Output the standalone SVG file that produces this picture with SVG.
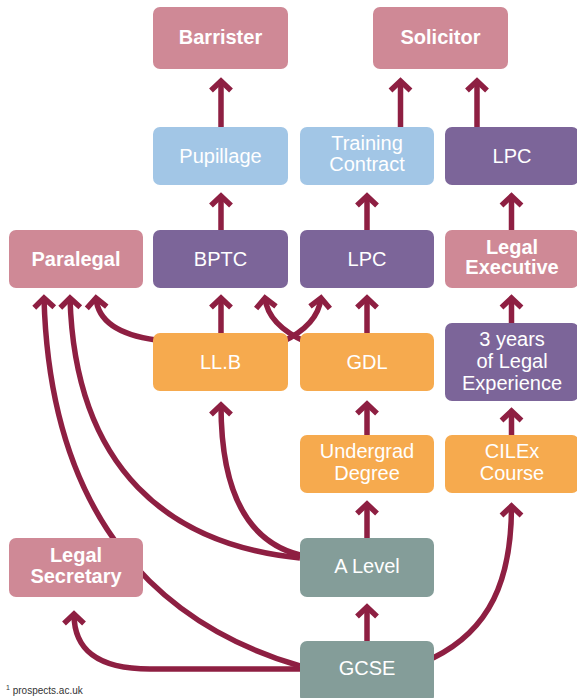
<svg xmlns="http://www.w3.org/2000/svg" width="577" height="698" viewBox="0 0 577 698">
<style>
.pink{fill:#CF8996}.blue{fill:#A2C6E6}.purple{fill:#7C6599}.orange{fill:#F6AA4E}.teal{fill:#849D99}
text{font-family:"Liberation Sans",Arial,sans-serif;font-size:20px;fill:#fff;text-anchor:middle}
.b{font-weight:bold}
.c{fill:none;stroke:#8E1F42;stroke-width:5.5;marker-end:url(#ah)}
.note{font-size:10px;fill:#333;text-anchor:start}
</style>
<defs>
<marker id="ah" markerUnits="userSpaceOnUse" orient="auto" viewBox="-16 -14 24 28" markerWidth="24" markerHeight="28" refX="0" refY="0">
<path d="M-9.5,-10 L0,0 L-9.5,10" fill="none" stroke="#8E1F42" stroke-width="5.5"/>
</marker>
</defs>
<g id="connectors">
<path class="c" d="M221 127 V81"/>
<path class="c" d="M400.5 127 V81"/>
<path class="c" d="M477 127 V81"/>
<path class="c" d="M221 230 V196"/>
<path class="c" d="M367 230 V196"/>
<path class="c" d="M511.5 230 V196"/>
<path class="c" d="M221 333 V298"/>
<path class="c" d="M367 333 V298"/>
<path class="c" d="M511.5 323 V298"/>
<path class="c" d="M306 342 Q268 325 265 298"/>
<path class="c" d="M282 342 Q318 325 321 298"/>
<path class="c" d="M156 340 C120 335 98 322 96 298"/>
<path class="c" d="M300 666 C160 625 50 520 44 298"/>
<path class="c" d="M300 558 C170 545 75 470 70 298"/>
<path class="c" d="M300 555 C240 540 221 480 221 405"/>
<path class="c" d="M367 435 V404"/>
<path class="c" d="M511.5 435 V411"/>
<path class="c" d="M367 538 V504"/>
<path class="c" d="M433 658 C490 630 511.5 580 511.5 506"/>
<path class="c" d="M367 641 V607"/>
<path class="c" d="M300 669 L150 669 C95 669 74 648 74 614"/>
</g>
<g id="barrister"><rect class="pink" x="153" y="7" width="135" height="62" rx="7"/><text class="b" x="220.5" y="44">Barrister</text></g>
<g id="solicitor"><rect class="pink" x="373" y="7" width="135" height="62" rx="7"/><text class="b" x="440.5" y="44">Solicitor</text></g>
<g id="pupillage"><rect class="blue" x="153" y="127" width="135" height="58" rx="7"/><text x="220.5" y="163">Pupillage</text></g>
<g id="training"><rect class="blue" x="300" y="127" width="134" height="58" rx="7"/><text x="367" y="150">Training</text><text x="367" y="171">Contract</text></g>
<g id="lpc-top"><rect class="purple" x="445" y="127" width="134" height="58" rx="7"/><text x="512" y="163">LPC</text></g>
<g id="paralegal"><rect class="pink" x="9" y="230" width="134" height="58" rx="7"/><text class="b" x="76" y="266">Paralegal</text></g>
<g id="bptc"><rect class="purple" x="153" y="230" width="135" height="58" rx="7"/><text x="220.5" y="266">BPTC</text></g>
<g id="lpc-mid"><rect class="purple" x="300" y="230" width="134" height="58" rx="7"/><text x="367" y="266">LPC</text></g>
<g id="legal-exec"><rect class="pink" x="445" y="230" width="134" height="58" rx="7"/><text class="b" x="512" y="254">Legal</text><text class="b" x="512" y="274">Executive</text></g>
<g id="llb"><rect class="orange" x="153" y="333" width="135" height="58" rx="7"/><text x="220.5" y="369">LL.B</text></g>
<g id="gdl"><rect class="orange" x="300" y="333" width="134" height="58" rx="7"/><text x="367" y="369">GDL</text></g>
<g id="experience"><rect class="purple" x="445" y="323" width="134" height="78" rx="7"/><text x="512" y="346">3 years</text><text x="512" y="368">of Legal</text><text x="512" y="390">Experience</text></g>
<g id="undergrad"><rect class="orange" x="300" y="435" width="134" height="58" rx="7"/><text x="367" y="458">Undergrad</text><text x="367" y="480">Degree</text></g>
<g id="cilex"><rect class="orange" x="445" y="435" width="134" height="58" rx="7"/><text x="512" y="458">CILEx</text><text x="512" y="480">Course</text></g>
<g id="legal-sec"><rect class="pink" x="9" y="538" width="134" height="59" rx="7"/><text class="b" x="76" y="562">Legal</text><text class="b" x="76" y="583">Secretary</text></g>
<g id="alevel"><rect class="teal" x="300" y="538" width="134" height="59" rx="7"/><text x="367" y="573">A Level</text></g>
<g id="gcse"><rect class="teal" x="300" y="641" width="134" height="62" rx="7"/><text x="367" y="675">GCSE</text></g>
<text class="note" x="6" y="694"><tspan font-size="7" dy="-4">1</tspan><tspan dy="4"> prospects.ac.uk</tspan></text>
</svg>
